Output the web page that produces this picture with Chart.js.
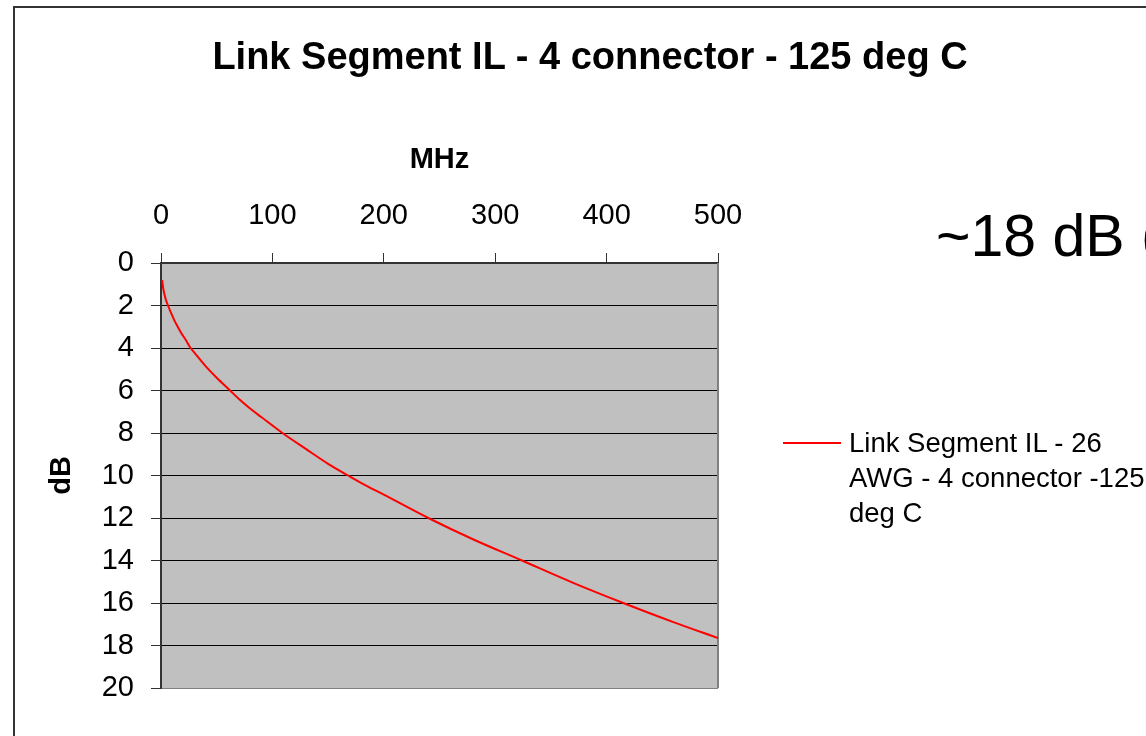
<!DOCTYPE html>
<html>
<head>
<meta charset="utf-8">
<script src="https://cdn.jsdelivr.net/npm/chart.js@4.4.0/dist/chart.umd.min.js"></script>
<style>
  body { margin: 0; width: 1146px; height: 736px; overflow: hidden; background: #fff; position: relative;
         font-family: "Liberation Sans", Arial, sans-serif; }
  #frame { position: absolute; left: 13px; top: 6px; width: 1300px; height: 900px;
           border-left: 2px solid #333; border-top: 2px solid #333; }
  #wrap { position: absolute; left: 0; top: 0; width: 1146px; height: 736px; }
  #title { position: absolute; left: 0; width: 1180px; top: 37px; text-align: center; white-space: nowrap;
           font-weight: bold; font-size: 38px; line-height: 38px; color: #000; }
  #note { position: absolute; left: 936px; top: 206px; font-size: 59px; line-height: 60px; white-space: nowrap; color: #000; }
  #legLine { position: absolute; left: 783px; top: 442px; width: 58px; height: 2px; background: #ff0000; }
  #legText { position: absolute; left: 849px; top: 425px; font-size: 27.5px; line-height: 35px; white-space: nowrap; color: #000; }
</style>
</head>
<body>
<div id="frame"></div>
<div id="wrap"><canvas id="chart" width="1146" height="736"></canvas></div>
<div id="title">Link Segment IL - 4 connector - 125 deg C</div>
<div id="note">~18 dB (</div>
<div id="legLine"></div>
<div id="legText">Link Segment IL - 26<br>AWG - 4 connector -125<br>deg C</div>
<script>
// values
const seriesName = 'Link Segment IL - 26 AWG - 4 connector -125 deg C';
const freqMHz = [1, 2, 3, 4.5, 6.3, 9, 12, 15, 18, 22, 26, 32, 40, 50, 62, 70, 80, 90, 109, 130, 150, 168, 185, 200, 240, 280, 324, 370, 415, 460, 500];
const ilDb = [0.8, 1.2, 1.45, 1.75, 2, 2.35, 2.7, 3, 3.28, 3.6, 3.95, 4.35, 4.85, 5.4, 6, 6.4, 6.85, 7.25, 8, 8.75, 9.45, 10, 10.5, 10.9, 12, 13, 14, 15.05, 16, 16.9, 17.65];
const xTicks = [0, 100, 200, 300, 400, 500];
const yTicks = [0, 2, 4, 6, 8, 10, 12, 14, 16, 18, 20];

const FONT = '"Liberation Sans", Arial, sans-serif';

// gray plot area + right border like the excel chart
const plotBg = {
  id: 'plotBg',
  beforeDraw(chart) {
    const a = chart.chartArea, ctx = chart.ctx;
    ctx.save();
    ctx.fillStyle = '#c0c0c0';
    ctx.fillRect(a.left, a.top, a.right - a.left, a.bottom - a.top);
    ctx.restore();
  },
  beforeDatasetsDraw(chart) {
    const a = chart.chartArea, ctx = chart.ctx;
    ctx.save();
    ctx.strokeStyle = '#808080';
    ctx.lineWidth = 2;
    ctx.beginPath();
    ctx.moveTo(a.right, a.top);
    ctx.lineTo(a.right, a.bottom);
    ctx.stroke();
    ctx.restore();
  }
};

new Chart(document.getElementById('chart'), {
  type: 'line',
  data: {
    datasets: [{
      label: seriesName,
      data: freqMHz.map((f, i) => ({ x: f, y: ilDb[i] })),
      borderColor: '#ff0000',
      borderWidth: 2,
      pointRadius: 0,
      cubicInterpolationMode: 'monotone',
      fill: false
    }]
  },
  options: {
    responsive: false,
    animation: false,
    layout: { padding: { left: 0, top: 0, right: 428, bottom: 48 } },
    plugins: { legend: { display: false }, tooltip: { enabled: false } },
    scales: {
      x: {
        type: 'linear',
        position: 'top',
        min: 0, max: 500,
        afterBuildTicks: s => { s.ticks = xTicks.map(v => ({ value: v })); },
        afterFit: s => { s.height = 263; },
        ticks: { color: '#000', padding: 20, font: { family: FONT, size: 29 } },
        grid: { drawOnChartArea: false, drawTicks: true, tickLength: 10, tickColor: '#333' },
        border: { color: '#333', width: 2 },
        title: { display: true, text: 'MHz', color: '#000', padding: { top: 143, bottom: 0 },
                 font: { family: FONT, size: 29, weight: 'bold' } }
      },
      y: {
        type: 'linear',
        reverse: true,
        min: 0, max: 20,
        afterBuildTicks: s => { s.ticks = yTicks.map(v => ({ value: v })); },
        afterFit: s => { s.width = 161; },
        ticks: { color: '#000', padding: 17, font: { family: FONT, size: 29 } },
        grid: {
          color: c => (c.tick && c.tick.value === 20 ? '#808080' : '#000'),
          lineWidth: 1,
          tickLength: 10,
          tickColor: '#333'
        },
        border: { color: '#333', width: 2 },
        title: { display: true, text: 'dB', color: '#000', padding: { top: 45, bottom: 0 },
                 font: { family: FONT, size: 29, weight: 'bold' } }
      }
    }
  },
  plugins: [plotBg]
});
</script>
</body>
</html>
